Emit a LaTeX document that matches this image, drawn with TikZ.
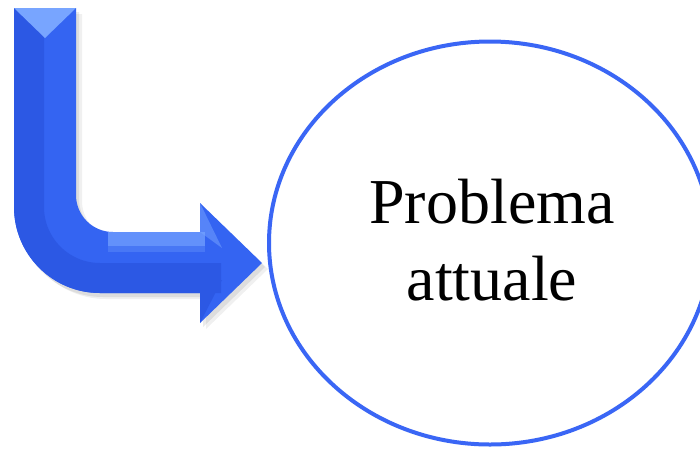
\documentclass[tikz,border=0pt]{standalone}
\usepackage{fontspec}
\setmainfont{Liberation Serif}
\usetikzlibrary{shapes.geometric}
\definecolor{arrowblue}{RGB}{52,100,242}
\definecolor{arrowdark}{RGB}{44,88,228}
\definecolor{arrowlight}{RGB}{120,165,255}
\definecolor{ringblue}{RGB}{58,102,245}
\tikzset{
  ring/.style={ellipse, draw=ringblue, line width=4pt, minimum width=442pt, minimum height=403pt, inner sep=0pt},
  ringtext/.style={font=\fontsize{64}{77}\selectfont, align=center, text=black, inner sep=0pt},
}
\def\arrowpath#1#2{(14+#1,8+#2) -- (76+#1,8+#2) -- (76+#1,150+#2) {[rounded corners=37pt] -- (76+#1,232+#2) -- (140+#1,232+#2)} -- (200+#1,232+#2) -- (200+#1,203+#2) -- (262+#1,263+#2) -- (200+#1,323+#2) -- (200+#1,293+#2) -- (170+#1,293+#2) {[rounded corners=86pt] -- (14+#1,293+#2) -- (14+#1,120+#2)} -- cycle}
\begin{document}
\begin{tikzpicture}[x=1pt,y=-1pt]
\useasboundingbox (0,0) rectangle (700,448);
\clip (0,0) rectangle (700,448);
\fill[white] (0,0) rectangle (700,448);
% soft shadow of the bent arrow
\fill[black,opacity=0.06] \arrowpath{6}{6};
\fill[black,opacity=0.08] \arrowpath{3}{4};
% bent arrow body
\fill[arrowblue] \arrowpath{0}{0};
\begin{scope}
\clip \arrowpath{0}{0};
% darker outer band following the bend
\draw[arrowdark, line width=30pt] (29,0) -- (29,150) {[rounded corners=71pt] -- (29,278) -- (150,278)} -- (200,278);
% lighter top bevel
\fill[arrowlight] (14,8) -- (76,8) -- (45,38) -- cycle;
% highlight along top of horizontal arm
\fill[arrowlight,opacity=0.7] (108,232) rectangle (205,246);
\fill[arrowlight,opacity=0.3] (108,246) rectangle (205,252);
% arrowhead bevel
\fill[arrowdark] (200,293) -- (200,323) -- (222,280) -- cycle;
\fill[arrowlight,opacity=0.5] (200,203) -- (222,248) -- (200,232) -- cycle;
\end{scope}
% target ellipse with text
\node[ring] (prob) at (490,243) {};
\node[ringtext] (probtxt) at (492,240) {Problema\\attuale};
\end{tikzpicture}
\end{document}
